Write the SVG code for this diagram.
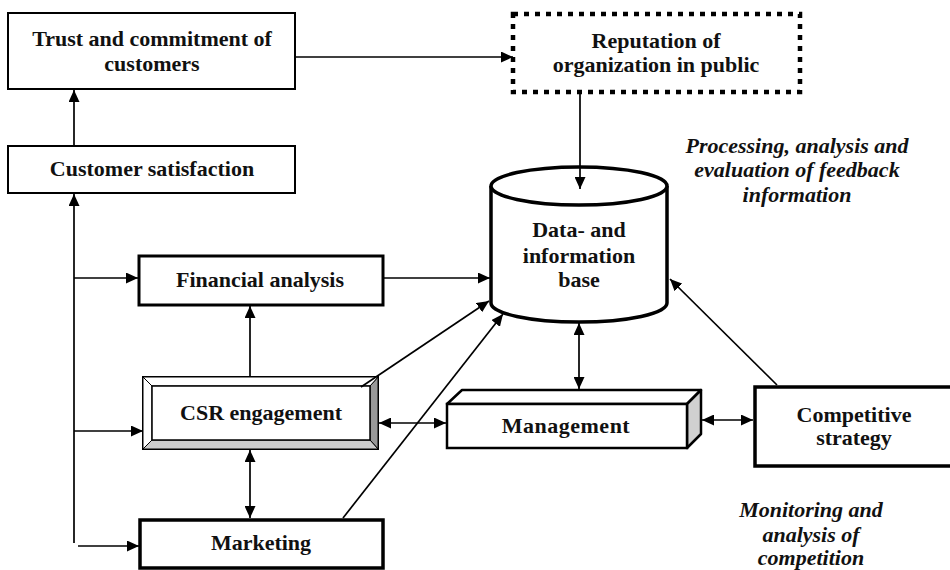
<svg xmlns="http://www.w3.org/2000/svg" width="950" height="570" viewBox="0 0 950 570">
<defs>
<marker id="arr" viewBox="0 0 12 11" refX="12" refY="5.5" markerWidth="12" markerHeight="11" markerUnits="userSpaceOnUse" orient="auto-start-reverse">
<path d="M0,0 L12,5.5 L0,11 z" fill="#000"/>
</marker>
<style>
.t{font-family:"Liberation Serif","Times New Roman",serif;font-weight:bold;font-size:22px;text-anchor:middle;fill:#111}
.i{font-family:"Liberation Serif","Times New Roman",serif;font-weight:bold;font-style:italic;font-size:22px;text-anchor:middle;fill:#111}
.c{fill:none;stroke:#000;stroke-width:1.7}
.b{fill:#fff;stroke:#000}
</style>
</defs>
<rect width="950" height="570" fill="#fff"/>
<g id="trust">
<rect class="b" x="8" y="13" width="287" height="76" stroke-width="2"/>
<text class="t" x="152" y="46">Trust and commitment of</text>
<text class="t" x="152" y="71">customers</text>
</g>
<g id="satisfaction">
<rect class="b" x="8" y="146" width="287" height="47" stroke-width="2"/>
<text class="t" x="152" y="176">Customer satisfaction</text>
</g>
<g id="reputation">
<rect x="513" y="14" width="287" height="78" fill="#fff" stroke="#000" stroke-width="4.5" stroke-dasharray="5 6"/>
<text class="t" x="656" y="48">Reputation of</text>
<text class="t" x="656" y="72">organization in public</text>
</g>
<g id="database">
<path d="M491,186 L491,303 A88,19 0 0 0 667,303 L667,186" fill="#fff" stroke="#000" stroke-width="3.5"/>
<ellipse cx="579" cy="186" rx="88" ry="19" fill="#fff" stroke="#000" stroke-width="3.5"/>
<text class="t" x="579" y="237">Data- and</text>
<text class="t" x="579" y="263">information</text>
<text class="t" x="579" y="287">base</text>
</g>
<g id="financial">
<rect class="b" x="139" y="256" width="244" height="49" stroke-width="3"/>
<text class="t" x="260" y="287">Financial analysis</text>
</g>
<g id="csr">
<rect x="143" y="377" width="235" height="72" fill="#fff" stroke="#000" stroke-width="2"/>
<polygon points="370,386 378,377 378,449 370,440" fill="#999" stroke="#000" stroke-width="1"/>
<polygon points="152,440 370,440 378,449 143,449" fill="#ccc" stroke="#000" stroke-width="1"/>
<polygon points="143,377 152,386 152,440 143,449" fill="#fff" stroke="#000" stroke-width="1"/>
<polygon points="143,377 378,377 370,386 152,386" fill="#fff" stroke="#000" stroke-width="1"/>
<rect x="152" y="386" width="218" height="54" fill="#fff" stroke="#000" stroke-width="1.5"/>
<text class="t" x="261" y="420">CSR engagement</text>
</g>
<g id="marketing">
<rect class="b" x="140" y="520" width="243" height="48" stroke-width="3.5"/>
<text class="t" x="261" y="550">Marketing</text>
</g>
<g id="management">
<polygon points="447,404 462,390 701,390 687,404" fill="#fff" stroke="#000" stroke-width="2.5" stroke-linejoin="round"/>
<polygon points="687,404 701,390 701,434 687,448" fill="#d0d0d0" stroke="#000" stroke-width="2.5" stroke-linejoin="round"/>
<rect class="b" x="447" y="404" width="240" height="44" stroke-width="2.5"/>
<text class="t" x="566" y="433" letter-spacing="0.5">Management</text>
</g>
<g id="competitive">
<rect class="b" x="755" y="387" width="205" height="79" stroke-width="3.5"/>
<text class="t" x="854" y="422">Competitive</text>
<text class="t" x="854" y="445">strategy</text>
</g>
<g id="note-feedback">
<text class="i" x="797" y="153">Processing, analysis and</text>
<text class="i" x="797" y="177">evaluation of feedback</text>
<text class="i" x="797" y="202">information</text>
</g>
<g id="note-competition">
<text class="i" x="811" y="517">Monitoring and</text>
<text class="i" x="811" y="542">analysis of</text>
<text class="i" x="811" y="565">competition</text>
</g>
<g id="connectors">
<line class="c" x1="74" y1="146" x2="74" y2="90" marker-end="url(#arr)"/>
<line class="c" x1="295" y1="57" x2="513" y2="57" marker-end="url(#arr)"/>
<line class="c" x1="580" y1="94" x2="580" y2="189" marker-end="url(#arr)"/>
<line class="c" x1="74" y1="543" x2="74" y2="194" marker-end="url(#arr)"/>
<line class="c" x1="74" y1="278" x2="138" y2="278" marker-end="url(#arr)"/>
<line class="c" x1="74" y1="431" x2="143" y2="431" marker-end="url(#arr)"/>
<line class="c" x1="78" y1="546" x2="139" y2="546" marker-end="url(#arr)"/>
<line class="c" x1="384" y1="278" x2="490" y2="278" marker-end="url(#arr)"/>
<line class="c" x1="250" y1="377" x2="250" y2="306" marker-end="url(#arr)"/>
<line class="c" x1="250" y1="450" x2="250" y2="518" marker-start="url(#arr)" marker-end="url(#arr)"/>
<line class="c" x1="361" y1="387" x2="489" y2="301" marker-end="url(#arr)"/>
<line class="c" x1="343" y1="518" x2="503" y2="314" marker-end="url(#arr)"/>
<line class="c" x1="579" y1="323" x2="579" y2="389" marker-start="url(#arr)" marker-end="url(#arr)"/>
<line class="c" x1="379" y1="423" x2="446" y2="423" marker-start="url(#arr)" marker-end="url(#arr)"/>
<line class="c" x1="702" y1="420" x2="753" y2="420" marker-start="url(#arr)" marker-end="url(#arr)"/>
<line class="c" x1="777" y1="385" x2="670" y2="279" marker-end="url(#arr)"/>
</g>
</svg>
